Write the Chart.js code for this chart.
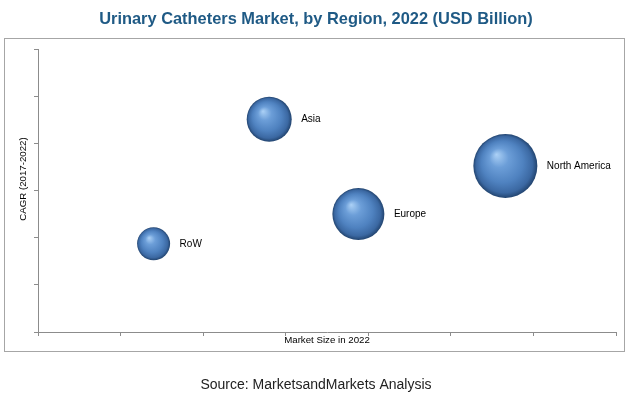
<!DOCTYPE html>
<html>
<head>
<meta charset="utf-8">
<script src="https://cdn.jsdelivr.net/npm/chart.js@4"></script>
<style>
  html,body{margin:0;padding:0;background:#fff;}
  #wrap{width:633px;height:396px;position:relative;}
</style>
</head>
<body>
<div id="wrap"><canvas id="c" width="633" height="396"></canvas></div>
<script>
// data
const regions = ['RoW', 'Asia', 'Europe', 'North America'];
const marketSize = [1.40, 2.80, 3.88, 5.66];   // x, axis 0..7 (no labels)
const cagr = [1.87, 4.51, 2.50, 3.52];          // y, axis 0..6 (no labels)
const bubbleR = [16.5, 22.5, 26, 32];           // bubble radius (px)

const chartTitle = 'Urinary Catheters Market, by Region, 2022 (USD Billion)';
const xTitle = 'Market Size in 2022';
const yTitle = 'CAGR (2017-2022)';
const sourceText = 'Source: MarketsandMarkets Analysis';

const AXIS = '#8c8c8c';

// bubbles sit well inside the area, no need for the radius-based padding
Chart.BubbleController.prototype.getMaxOverflow = function(){ return 0; };

function sphere(ctx){
  const chart=ctx.chart, raw=ctx.raw; if(!raw) return '#4f81bd';
  const xs=chart.scales.x, ys=chart.scales.y;
  if(!xs||!ys) return '#4f81bd';
  const cx=xs.getPixelForValue(raw.x), cy=ys.getPixelForValue(raw.y), r=raw.r;
  if(!isFinite(cx)||!isFinite(cy)) return '#4f81bd';
  const g=chart.ctx.createRadialGradient(cx-r*0.28, cy-r*0.36, 0, cx, cy, r);
  g.addColorStop(0, '#acd1f6');
  g.addColorStop(0.3, '#6c9ed8');
  g.addColorStop(0.65, '#4f82c0');
  g.addColorStop(0.88, '#3b68a2');
  g.addColorStop(1, '#22446f');
  return g;
}

const decor = {
  id:'decor',
  beforeDraw(chart){
    const c=chart.ctx; c.save();
    c.fillStyle='#fff'; c.fillRect(0,0,chart.width,chart.height);
    c.strokeStyle='#a6a6a6'; c.lineWidth=1;
    c.strokeRect(4.5,38.5,620,313);
    c.restore();
  },
  afterDraw(chart){
    const c=chart.ctx, a=chart.chartArea; c.save();
    c.fillStyle='#1f5a85'; c.font='bold 16.4px "Liberation Sans", Arial, sans-serif';
    c.textAlign='center'; c.textBaseline='middle';
    c.fillText(chartTitle, 316, 19);
    c.fillStyle='#000'; c.font='9.7px "Liberation Sans", Arial, sans-serif';
    c.fillText(xTitle, (a.left+a.right)/2, 340);
    c.save(); c.translate(23,179); c.rotate(-Math.PI/2); c.fillText(yTitle,0,0); c.restore();
    c.fillStyle='#222'; c.font='14px "Liberation Sans", Arial, sans-serif';
    c.fillText(sourceText, 316, 385);
    // bubble labels
    c.fillStyle='#000'; c.font='10px "Liberation Sans", Arial, sans-serif'; c.textAlign='left';
    chart.getDatasetMeta(0).data.forEach((el,i)=>{
      c.fillText(regions[i], el.x+bubbleR[i]+9.5, el.y);
    });
    c.restore();
  }
};

new Chart(document.getElementById('c'), {
  type:'bubble',
  data:{ datasets:[{
    label:'Regions',
    data: regions.map((_,i)=>({x:marketSize[i], y:cagr[i], r:bubbleR[i]})),
    backgroundColor: sphere,
    borderWidth:0
  }]},
  options:{
    responsive:false, animation:false, events:[],
    layout:{ padding:{ left:34, top:49, right:17, bottom:60 } },
    plugins:{ legend:{display:false}, tooltip:{enabled:false} },
    scales:{
      x:{ type:'linear', min:0, max:7, ticks:{display:false, stepSize:1},
          grid:{drawOnChartArea:false, drawTicks:true, tickLength:4, color:AXIS},
          border:{color:AXIS}, afterFit(s){ s.height=4; } },
      y:{ type:'linear', min:0, max:6, ticks:{display:false, stepSize:1},
          grid:{drawOnChartArea:false, drawTicks:true, tickLength:4, color:AXIS},
          border:{color:AXIS}, afterFit(s){ s.width=4; } }
    }
  },
  plugins:[decor]
});
</script>
</body>
</html>
